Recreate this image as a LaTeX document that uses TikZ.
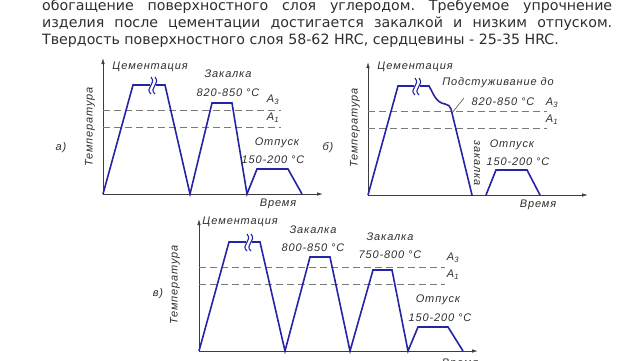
\documentclass[tikz,border=0pt]{standalone}
\usepackage{fontspec}
\setmainfont{DejaVu Sans}
\newfontfamily\lblfont[LetterSpace=8]{Liberation Sans}
\usetikzlibrary{arrows.meta}
\definecolor{curveblue}{HTML}{2424A6}
\definecolor{axisgray}{HTML}{3C3C3C}
\definecolor{dashgray}{HTML}{7A7A7A}
\definecolor{txtgray}{HTML}{2E2E2E}
\tikzset{
  curve/.style={curveblue, line width=1.6pt, line join=miter},
  axis/.style={axisgray, line width=0.8pt, -{Latex[length=6pt,width=3.5pt]}},
  crit/.style={dashgray, line width=0.8pt, dash pattern=on 7pt off 4pt},
  lbl/.style={font=\lblfont\itshape\fontsize{11}{13}\selectfont, text=txtgray, inner sep=0pt},
  body/.style={font=\frenchspacing\fontsize{14.2}{17}\selectfont, text=txtgray, inner sep=0pt, anchor=base west},
}
% break mark on the plateau
\newcommand{\brk}[2]{%
  \fill[white] (#1-3,#2-3) rectangle (#1+3,#2+3);
  \draw[curveblue, line width=1.1pt] (#1-2,#2+9) .. controls (#1-9,#2+3) and (#1+4,#2-1) .. (#1-2,#2-8);
  \draw[curveblue, line width=1.1pt] (#1+2,#2+9) .. controls (#1-5,#2+3) and (#1+8,#2-1) .. (#1+2,#2-8);
}
\begin{document}
\begin{tikzpicture}[x=1pt,y=-1pt]
  \useasboundingbox (0,0) rectangle (640,360);
  % text above
  \node[body] (txt1) at (42,10) {\makebox[570pt][s]{обогащение поверхностного слоя углеродом. Требуемое упрочнение}};
  \node[body] (txt2) at (42,27) {\makebox[570pt][s]{изделия после цементации достигается закалкой и низким отпуском.}};
  \node[body] (txt3) at (42,44) {Твердость поверхностного слоя 58-62 HRC, сердцевины - 25-35 HRC.};

  % а)
  \draw[axis] (103,194) -- (103,58);
  \draw[axis] (103,194) -- (323,194);
  \draw[crit] (103,110) -- (281,110);
  \draw[crit] (103,127) -- (281,127);
  \draw[curve] (103,194) -- (133,85) -- (165,85) -- (190,194) -- (212,103) -- (232,103)
    -- (247,194) -- (257,169) -- (288,169) -- (302,194);
  \brk{153}{85}
  \node[lbl] (cemA) at (150,67) {Цементация};
  \node[lbl] (zakA) at (228,74) {Закалка};
  \node[lbl] (tzA) at (228,93) {820-850 °C};
  \node[lbl] (a3A) at (273,100) {A\textsubscript{3}};
  \node[lbl] (a1A) at (273,118) {A\textsubscript{1}};
  \node[lbl] (otpA) at (277,143) {Отпуск};
  \node[lbl] (toA) at (273,160) {150-200 °C};
  \node[lbl] (timeA) at (278,204) {Время};
  \node[lbl, rotate=90] (tempA) at (90,127) {Температура};
  \node[lbl] (capA) at (61,148) {а)};

  % б)
  \draw[axis] (368,195) -- (368,62);
  \draw[axis] (368,195) -- (588,195);
  \draw[crit] (368,111) -- (547,111);
  \draw[crit] (368,128) -- (547,128);
  \draw[curve] (368,195) -- (398,86) -- (429,86) to[out=-60,in=170] (445,104)
    to[out=-10,in=105] (451,109) -- (472,195);
  \draw[curve] (486,195) -- (496,170) -- (527,170) -- (540,195);
  \brk{417}{86}
  \draw[axisgray, line width=0.5pt] (452,113) -- (464,98);
  \node[lbl] (cemB) at (415,67) {Цементация};
  \node[lbl] (podB) at (498,83) {Подстуживание до};
  \node[lbl] (tzB) at (503,102) {820-850 °C};
  \node[lbl] (a3B) at (552,103) {A\textsubscript{3}};
  \node[lbl] (a1B) at (552,120) {A\textsubscript{1}};
  \node[lbl, rotate=-90] (zakB) at (477,163) {закалка};
  \node[lbl] (otpB) at (512,145) {Отпуск};
  \node[lbl] (toB) at (518,162) {150-200 °C};
  \node[lbl] (timeB) at (538,205) {Время};
  \node[lbl, rotate=90] (tempB) at (355,128) {Температура};
  \node[lbl] (capB) at (328,148) {б)};

  % в)
  \draw[axis] (199,351) -- (199,219);
  \draw[axis] (199,351) -- (478,351);
  \draw[crit] (199,267) -- (445,267);
  \draw[crit] (199,284) -- (445,284);
  \draw[curve] (199,351) -- (229,242) -- (260,242) -- (285,351) -- (310,257) -- (330,257)
    -- (350,351) -- (373,270) -- (392,270) -- (408,351) -- (418,327) -- (448,327) -- (463,351);
  \brk{249}{242}
  \node[lbl] (cemC) at (240,222) {Цементация};
  \node[lbl] (zakC) at (313,230) {Закалка};
  \node[lbl] (tzC) at (313,248) {800-850 °C};
  \node[lbl] (zakD) at (390,237) {Закалка};
  \node[lbl] (tzD) at (390,255) {750-800 °C};
  \node[lbl] (a3C) at (453,258) {A\textsubscript{3}};
  \node[lbl] (a1C) at (453,275) {A\textsubscript{1}};
  \node[lbl] (otpC) at (438,300) {Отпуск};
  \node[lbl] (toC) at (440,318) {150-200 °C};
  \node[lbl] (timeC) at (460,364) {Время};
  \node[lbl, rotate=90] (tempC) at (175,285) {Температура};
  \node[lbl] (capC) at (158,294) {в)};
\end{tikzpicture}
\end{document}
